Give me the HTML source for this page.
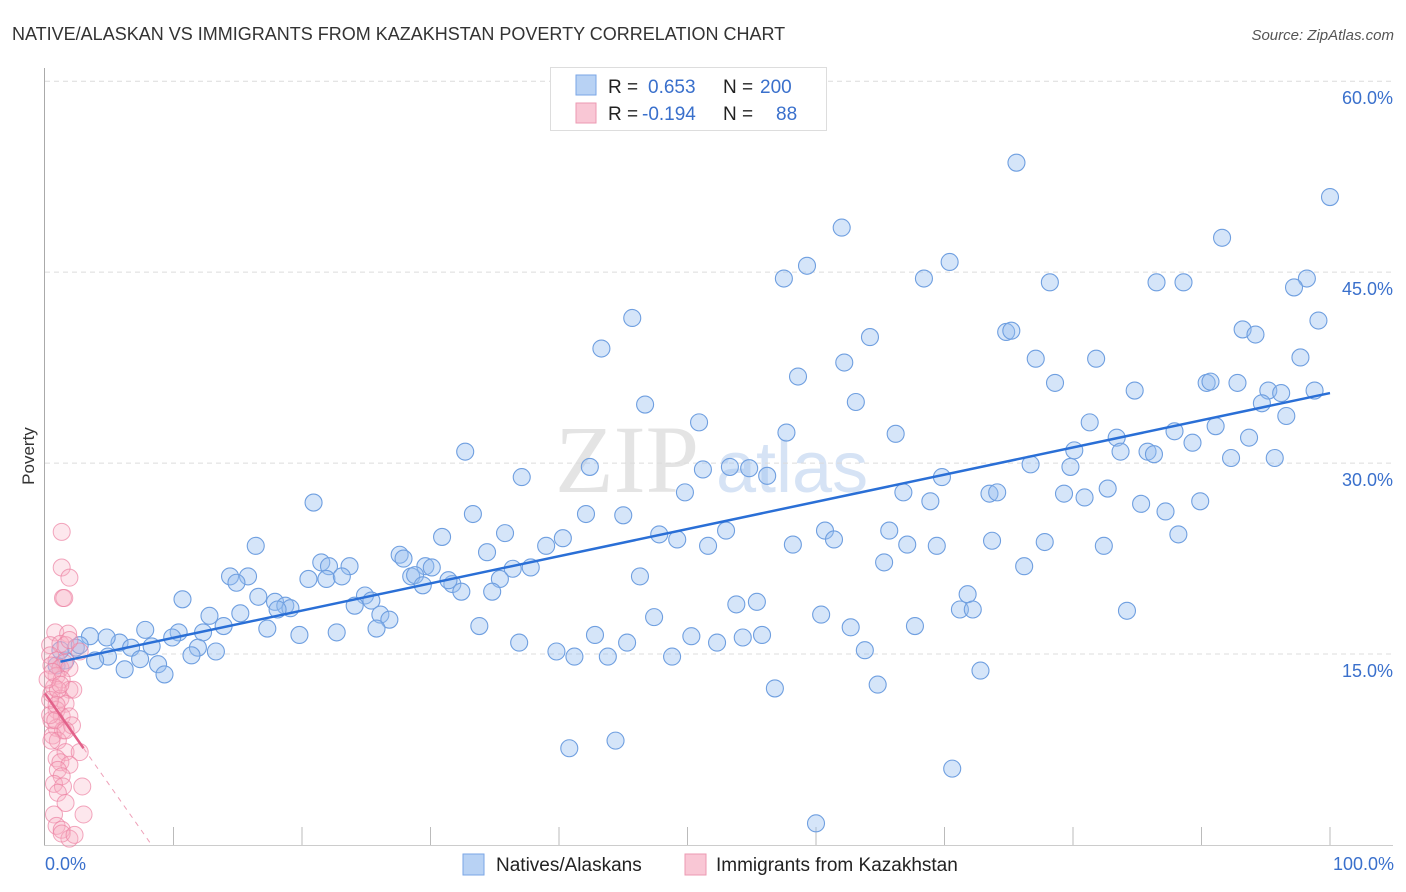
<!DOCTYPE html>
<html><head><meta charset="utf-8">
<style>
body{margin:0;background:#fff;font-family:"Liberation Sans",sans-serif;}
svg{display:block}
</style></head>
<body>
<svg id="chart" width="1406" height="892" viewBox="0 0 1406 892" xmlns="http://www.w3.org/2000/svg">
<text x="12" y="40" font-size="18" fill="#333">NATIVE/ALASKAN VS IMMIGRANTS FROM KAZAKHSTAN POVERTY CORRELATION CHART</text>
<text x="1394" y="40" font-size="15" fill="#555" font-style="italic" text-anchor="end">Source: ZipAtlas.com</text>
<text x="555" y="492" font-size="96" font-family="Liberation Serif,serif" fill="#e4e4e4">ZIP</text>
<text x="716" y="492" font-size="72" fill="#d6e3f5">atlas</text>
<g id="grid"></g>
<g id="axes"></g>
<g id="marks"></g>
<g id="trends"></g>
<text x="34" y="456" font-size="17" fill="#333" text-anchor="middle" transform="rotate(-90 34 456)">Poverty</text>
<text x="45" y="870" font-size="18" fill="#3a70cc">0.0%</text>
<text x="1394" y="870" font-size="18" fill="#3a70cc" text-anchor="end">100.0%</text>
<g>
<rect x="550.5" y="67.5" width="276" height="63" fill="#fff" stroke="#ddd"/>
<rect x="576" y="75" width="20" height="20" fill="#b8d2f4" stroke="#7aa6e6"/>
<rect x="576" y="103" width="20" height="20" fill="#f9c7d5" stroke="#ec9ab2"/>
<text x="608" y="93" font-size="19" fill="#222">R = </text><text x="648" y="93" font-size="19" fill="#3a70cc">0.653</text>
<text x="723" y="93" font-size="19" fill="#222">N = </text><text x="760" y="93" font-size="19" fill="#3a70cc">200</text>
<text x="608" y="120" font-size="19" fill="#222">R = </text><text x="642" y="120" font-size="19" fill="#3a70cc">-0.194</text>
<text x="723" y="120" font-size="19" fill="#222">N = </text><text x="776" y="120" font-size="19" fill="#3a70cc">88</text>
</g>
<g>
<rect x="463" y="854" width="21" height="21" fill="#b8d2f4" stroke="#7aa6e6"/>
<text x="496" y="871" font-size="19" fill="#222">Natives/Alaskans</text>
<text x="716" y="871" font-size="19" fill="#222">Immigrants from Kazakhstan</text>
<rect x="685" y="854" width="21" height="21" fill="#f9c7d5" stroke="#ec9ab2"/>
</g>
</svg>
<script>
const yTicks=[15,30,45,60];
const yTickLabels=["15.0%","30.0%","45.0%","60.0%"];
const blueX=[75.6,100,62.0,59.3,70.4,57.5,68.4,78.2,86.5,88.6,91.6,98.2,97.2,45.7,99.1,93.2,94.2,74.8,75.2,64.2,43.3,97.7,77.1,81.8,62.2,58.6,78.6,90.4,90.7,92.8,84.8,95.2,96.2,98.8,94.7,46.7,63.1,96.6,81.3,50.9,57.7,91.1,87.9,66.2,83.4,93.7,89.3,85.8,83.7,86.3,80.1,32.7,92.3,95.7,76.7,79.8,42.4,51.2,53.3,54.8,37.1,56.2,69.8,49.8,66.8,79.3,73.5,74.1,80.9,82.7,68.9,20.9,89.9,85.3,87.2,42.1,33.3,45.0,35.8,47.8,53.0,60.7,65.7,61.4,49.2,88.2,73.7,77.8,16.4,58.2,51.6,67.1,69.4,40.3,30.9,39.0,27.6,27.9,34.4,21.5,82.4,23.7,65.3,76.2,22.1,14.4,15.8,21.9,23.1,29.6,30.1,28.5,28.8,36.4,37.8,46.3,14.9,20.5,29.4,31.7,31.4,32.4,35.4,34.8,71.8,16.6,24.9,25.4,17.9,18.7,10.7,24.1,53.8,55.4,19.1,18.1,12.8,15.2,26.1,26.8,71.2,72.2,60.4,84.2,47.4,13.9,7.8,10.4,17.3,25.8,33.8,12.3,19.8,22.7,62.7,67.7,9.9,5.8,3.5,4.8,50.3,55.8,54.3,42.8,45.3,52.3,36.9,6.7,8.3,11.9,13.3,2.4,4.9,7.4,11.4,39.8,41.2,43.8,48.8,63.8,6.2,8.8,9.3,3.9,1.6,72.8,56.8,64.8,40.8,44.4,70.6,60.0,0.9,1.2,2.7];
const blueY=[53.6,50.9,48.5,45.5,45.8,44.5,44.5,44.2,44.2,44.2,47.7,44.5,43.8,41.4,41.2,40.5,40.1,40.3,40.4,39.9,39.0,38.3,38.2,38.2,37.9,36.8,36.3,36.3,36.4,36.3,35.7,35.7,35.5,35.7,34.7,34.6,34.8,33.7,33.2,33.2,32.4,32.9,32.5,32.3,32.0,32.0,31.6,30.9,30.9,30.7,31.0,30.9,30.4,30.4,29.9,29.7,29.7,29.5,29.7,29.6,28.9,29.0,28.9,27.7,27.7,27.6,27.6,27.7,27.3,28.0,27.0,26.9,27.0,26.8,26.2,26.0,26.0,25.9,24.5,24.4,24.7,24.7,24.7,24.0,24.0,24.4,23.9,23.8,23.5,23.6,23.5,23.6,23.5,24.1,24.2,23.5,22.8,22.5,23.0,22.2,23.5,21.9,22.2,21.9,21.9,21.1,21.1,20.9,21.1,21.9,21.8,21.1,21.2,21.7,21.8,21.1,20.6,20.9,20.4,20.5,20.8,19.9,20.9,19.9,19.7,19.5,19.6,19.2,19.1,18.8,19.3,18.8,18.9,19.1,18.6,18.5,18.0,18.2,18.1,17.7,18.5,18.5,18.1,18.4,17.9,17.2,16.9,16.7,17.0,17.0,17.2,16.7,16.5,16.7,17.1,17.2,16.3,15.9,16.4,16.3,16.4,16.5,16.3,16.5,15.9,15.9,15.9,15.5,15.6,15.5,15.2,15.5,14.8,14.6,14.9,15.2,14.8,14.8,14.8,15.3,13.8,14.2,13.4,14.5,14.5,13.7,12.3,12.6,7.6,8.2,6.0,1.7,14.1,15.3,15.7];
const pinkX=[1.3,1.3,1.9,1.4,1.5,0.8,1.8,0.4,1.2,0.4,0.9,1.5,2.7,0.5,1.2,1.9,0.9,1.3,0.7,1.9,2.2,0.5,1.2,1.6,0.9,1.3,1.9,0.5,0.9,1.4,2.1,0.6,1.0,1.6,2.7,0.9,1.2,1.9,1.0,1.3,0.7,1.4,2.9,1.0,1.6,0.7,0.9,1.3,1.9,1.3,2.3,3.0,0.4,0.4,1.0,0.2,1.6,1.9,0.6,0.9,0.8,1.6,0.5,1.2];
const pinkY=[24.6,21.8,21.0,19.4,19.4,16.7,16.6,15.7,15.8,14.9,14.5,14.3,15.2,14.1,13.9,13.9,13.3,13.0,12.4,12.2,12.2,11.9,11.5,11.1,10.6,10.1,10.1,9.8,9.2,9.0,9.4,8.6,8.2,7.3,7.3,6.8,6.5,6.3,5.9,5.4,4.8,4.6,4.6,4.1,3.3,2.4,1.5,1.2,0.5,0.9,0.8,2.4,11.4,10.2,12.2,13.0,15.7,16.1,13.6,11.0,9.8,9.0,8.2,12.6];
const blueTrend=[[1.2,14.4],[100,35.5]];
const pinkTrendSolid=[[0,11.9],[3.0,7.6]];
const pinkTrendDash=[[3.0,7.6],[8.3,0]];

const NS="http://www.w3.org/2000/svg";
const X0=45,X1=1330,Y0=845,PX_PER=12.73;
const xs=v=>X0+(X1-X0)*v/100;
const ys=v=>Y0-v*PX_PER;
function mk(tag,attrs,parent){const e=document.createElementNS(NS,tag);for(const k in attrs)e.setAttribute(k,attrs[k]);parent.appendChild(e);return e;}
const grid=document.getElementById('grid'),axes=document.getElementById('axes'),marks=document.getElementById('marks'),trends=document.getElementById('trends');
yTicks.forEach((t,i)=>{
 const l=mk('line',{x1:X0,x2:1393,y1:ys(t),y2:ys(t),stroke:'#dcdcdc','stroke-dasharray':'5,4'},grid);
 
 
 const tx=mk('text',{x:1393,y:ys(t)+23,'font-size':18,fill:'#3a70cc','text-anchor':'end'},grid);
 tx.textContent=yTickLabels[i];
 
 
});
const ax=mk('line',{x1:44.5,x2:44.5,y1:68,y2:845.5,stroke:'#aaa'},axes);


const bx=mk('line',{x1:44,x2:1393,y1:845.5,y2:845.5,stroke:'#ccc'},axes);


for(let i=1;i<=10;i++){
 const t=mk('line',{x1:xs(i*10),x2:xs(i*10),y1:827,y2:845,stroke:'#bbb'},axes);
 
 
}
blueX.forEach((v,i)=>{
 const c=mk('circle',{cx:xs(v),cy:ys(blueY[i]),r:8.5,fill:'rgba(150,190,240,0.4)',stroke:'#6f9fe0','stroke-width':1.1},marks);
 
 
});
pinkX.forEach((v,i)=>{
 const c=mk('circle',{cx:xs(v),cy:ys(pinkY[i]),r:8.5,fill:'rgba(247,175,197,0.3)',stroke:'rgba(236,130,163,0.7)','stroke-width':1},marks);
 
 
});
const bt=mk('line',{x1:xs(blueTrend[0][0]),y1:ys(blueTrend[0][1]),x2:xs(blueTrend[1][0]),y2:ys(blueTrend[1][1]),stroke:'#2a6fd6','stroke-width':2.5},trends);


const pt=mk('line',{x1:xs(pinkTrendSolid[0][0]),y1:ys(pinkTrendSolid[0][1]),x2:xs(pinkTrendSolid[1][0]),y2:ys(pinkTrendSolid[1][1]),stroke:'#e2628a','stroke-width':2.5},trends);


const pd=mk('line',{x1:xs(pinkTrendDash[0][0]),y1:ys(pinkTrendDash[0][1]),x2:xs(pinkTrendDash[1][0]),y2:ys(pinkTrendDash[1][1]),stroke:'#eea0b8','stroke-width':1,'stroke-dasharray':'5,5'},trends);


</script>
</body></html>
